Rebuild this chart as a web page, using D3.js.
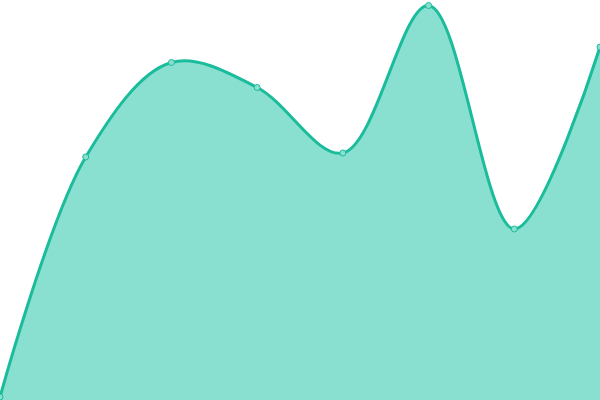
<!DOCTYPE html>
<html><head><meta charset="utf-8">
<script src="https://cdn.jsdelivr.net/npm/d3@7"></script>
<style>html,body{margin:0;padding:0;background:#fff;overflow:hidden}</style>
</head><body>
<svg id="chart" width="600" height="400"></svg>
<script>
const categories = ["A","B","C","D","E","F","G","H"];
const values = [3, 243, 337.5, 312.5, 247, 394.5, 171, 353];
const yDomain = [0, 400];

const width = 600, height = 400;
const svg = d3.select("#chart");
const x = d3.scalePoint().domain(categories).range([0, width]);
const y = d3.scaleLinear().domain(yDomain).range([height, 0]);
const data = categories.map((c, i) => ({c, v: values[i]}));

const curve = d3.curveCatmullRom.alpha(0.5);
svg.append("path").datum(data)
  .attr("fill", "#8ae0d0")
  .attr("d", d3.area().x(d => x(d.c)).y0(y(0)).y1(d => y(d.v)).curve(curve));
svg.append("path").datum(data)
  .attr("fill", "none").attr("stroke", "#1abc9c").attr("stroke-width", 3)
  .attr("d", d3.line().x(d => x(d.c)).y(d => y(d.v)).curve(curve));
svg.selectAll("circle").data(data).join("circle")
  .attr("cx", d => x(d.c)).attr("cy", d => y(d.v)).attr("r", 3)
  .attr("fill", "#8ae0d0").attr("stroke", "#1abc9c").attr("stroke-width", 1);
</script>
</body></html>
